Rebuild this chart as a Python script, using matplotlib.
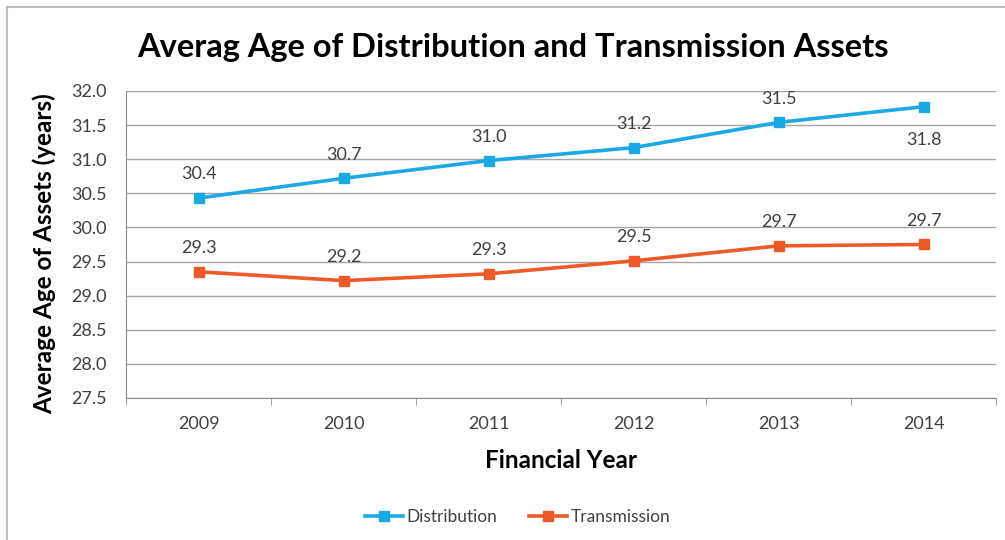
import matplotlib.pyplot as plt
from matplotlib.lines import Line2D

plt.rcParams['font.family'] = ['Lato', 'DejaVu Sans']

years = ['2009', '2010', '2011', '2012', '2013', '2014']
distribution = [30.43, 30.72, 30.98, 31.17, 31.54, 31.77]
transmission = [29.35, 29.22, 29.32, 29.51, 29.73, 29.75]
dist_labels = ['30.4', '30.7', '31.0', '31.2', '31.5', '31.8']
trans_labels = ['29.3', '29.2', '29.3', '29.5', '29.7', '29.7']

blue = '#1BA9E3'
orange = '#EC5A28'
text_col = '#404040'

fig = plt.figure(figsize=(10.05, 5.4), dpi=100)
ax = fig.add_axes([0.1254, 0.263, 0.866, 0.5685])

x = list(range(len(years)))
ax.plot(x, distribution, color=blue, lw=2.6, marker='s', ms=7, label='Distribution', zorder=3)
ax.plot(x, transmission, color=orange, lw=2.6, marker='s', ms=7, label='Transmission', zorder=3)

for i, (v, t) in enumerate(zip(distribution, dist_labels)):
    dy = -24 if i == len(years) - 1 else 17
    ax.annotate(t, (i, v), xytext=(0, dy), textcoords='offset points',
                ha='center', va='center', fontsize=13, color=text_col)
for i, (v, t) in enumerate(zip(transmission, trans_labels)):
    ax.annotate(t, (i, v), xytext=(0, 17), textcoords='offset points',
                ha='center', va='center', fontsize=13, color=text_col)

ax.set_xlim(-0.5, len(years) - 0.5)
ax.set_ylim(27.5, 32.0)
ax.set_yticks([27.5 + 0.5 * k for k in range(10)])
ax.set_yticklabels([f'{27.5 + 0.5 * k:.1f}' for k in range(10)])
ax.set_xticks(x)
ax.set_xticklabels(years)
ax.set_xticks([k - 0.5 for k in range(len(years) + 1)], minor=True)
ax.tick_params(axis='x', which='major', length=0, pad=13, labelsize=13, labelcolor=text_col)
ax.tick_params(axis='x', which='minor', length=5, color='#8C8C8C', direction='out')
ax.tick_params(axis='y', length=0, pad=14, labelsize=13, labelcolor=text_col)

ax.grid(axis='y', color='#A6A6A6', lw=1)
ax.set_axisbelow(True)
for s in ['top', 'right']:
    ax.spines[s].set_visible(False)
ax.spines['left'].set_color('#8C8C8C')
ax.spines['bottom'].set_color('#8C8C8C')

ax.set_xlabel('Financial Year', fontsize=17.5, fontweight='bold', labelpad=12)
ax.set_ylabel('Average Age of Assets (years)', fontsize=17.5, fontweight='bold')
ax.yaxis.set_label_coords(-0.08, 0.47)
fig.text(0.51, 0.912, 'Averag Age of Distribution and Transmission Assets',
         ha='center', va='center', fontsize=23.5, fontweight='bold', color='black')

handles = [Line2D([0], [0], color=blue, lw=2.6, marker='s', ms=6.5),
           Line2D([0], [0], color=orange, lw=2.6, marker='s', ms=6.5)]
fig.legend(handles, ['Distribution', 'Transmission'], loc='center', bbox_to_anchor=(0.515, 0.043),
           ncol=2, frameon=False, fontsize=12.5, handlelength=2.2, handletextpad=0.2,
           columnspacing=1.8, labelcolor=text_col)

# frame of the chart area (only left and top edges visible in the crop)
fig.add_artist(Line2D([0.007, 0.007], [0.987, 0.0], transform=fig.transFigure, color='#BFBFBF', lw=1.5))
fig.add_artist(Line2D([0.007, 1.0], [0.987, 0.987], transform=fig.transFigure, color='#BFBFBF', lw=1.5))

fig.savefig('out.png', dpi=100)
